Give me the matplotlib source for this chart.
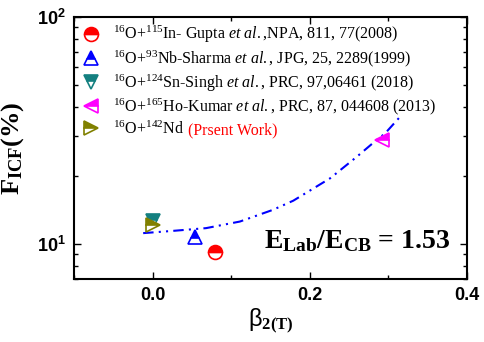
import matplotlib
matplotlib.use("Agg")
import matplotlib.pyplot as plt
from matplotlib.ticker import LogLocator, NullFormatter, MultipleLocator, FormatStrFormatter
import numpy as np

plt.rcParams['mathtext.fontset'] = 'custom'
plt.rcParams['mathtext.rm'] = 'Liberation Serif'
plt.rcParams['mathtext.it'] = 'Liberation Serif:italic'
plt.rcParams['mathtext.bf'] = 'Liberation Serif:bold'

# data
labels = [r"$^{16}$O+$^{115}$In- Gupta $\it{et\ al.}$,NPA, 811, 77(2008)",
          r"$^{16}$O+$^{93}$Nb-Sharma $\it{et\ al.}$, JPG, 25, 2289(1999)",
          r"$^{16}$O+$^{124}$Sn-Singh $\it{et\ al.}$, PRC, 97,06461 (2018)",
          r"$^{16}$O+$^{165}$Ho-Kumar $\it{et\ al.}$, PRC, 87, 044608 (2013)",
          r"$^{16}$O+$^{142}$Nd"]
beta = [0.079, 0.054, 0.0, 0.292, 0.0]
ficf = [9.2, 10.7, 12.6, 28.7, 12.1]
colors = ['red', 'blue', '#148080', '#ff00ff', '#808000']
markers = ['o', '^', 'v', '<', '>']

fit_x = [-0.012, 0.026, 0.068, 0.111, 0.153, 0.179, 0.226, 0.260, 0.281, 0.296, 0.315]
fit_y = [11.15, 11.41, 11.73, 12.54, 14.12, 15.50, 19.47, 24.24, 27.94, 30.74, 36.38]

fig = plt.figure(figsize=(4.84, 3.42), dpi=100)
ax = fig.add_axes([74/484, 1-279/342, (467-74)/484, (279-17)/342])

ax.plot(fit_x, fit_y, color='blue', lw=1.5, linestyle=(0, (5, 2.5, 1, 2.5, 1, 2.5)), zorder=1)

handles = []
for x, y, c, m, lab in zip(beta, ficf, colors, markers, labels):
    h, = ax.plot([x], [y], linestyle='none', marker=m, markersize=10,
                 markerfacecolor=c, markerfacecoloralt='white', fillstyle='top',
                 markeredgecolor=c, markeredgewidth=1.2, label=lab, zorder=3)
    handles.append(h)

ax.set_yscale('log')
ax.set_xlim(-0.1, 0.4)
ax.set_ylim(7, 100)
ax.xaxis.set_major_locator(MultipleLocator(0.2))
ax.xaxis.set_minor_locator(MultipleLocator(0.1))
ax.xaxis.set_major_formatter(FormatStrFormatter('%.1f'))
ax.yaxis.set_minor_locator(LogLocator(base=10, subs=np.arange(2, 10)))
ax.yaxis.set_minor_formatter(NullFormatter())
ax.tick_params(which='both', direction='in', top=True, right=True, width=1.0)
ax.tick_params(which='major', length=5, labelsize=13, pad=6)
ax.tick_params(which='minor', length=3)
for lab in ax.get_xticklabels() + ax.get_yticklabels():
    lab.set_fontweight('bold')
    lab.set_family('Liberation Sans')
for s in ax.spines.values():
    s.set_linewidth(1.5)

ax.set_ylabel(r"$\mathbf{F_{ICF}(\%)}$", fontsize=19, labelpad=8)
ax.set_xlabel(r"β$_{\mathbf{2(T)}}$", fontsize=17, labelpad=2, family='Liberation Sans')

ax.text(0.957, 0.118, r"E$_{\mathbf{Lab}}$/E$_{\mathbf{CB}}$ = 1.53", transform=ax.transAxes,
        fontsize=20, ha='right', va='baseline', family='Liberation Serif', fontweight='bold')

leg = ax.legend(handles=handles, loc='upper left', frameon=False,
                prop={'family': 'Liberation Serif', 'size': 11.5},
                handletextpad=0.8, labelspacing=0.2, borderaxespad=0.05,
                handlelength=1.2, bbox_to_anchor=(0.0, 1.0))
txt = leg.get_texts()[-1]
ax.annotate("(Prsent Work)", xy=(1, 0), xycoords=txt, xytext=(3, 0),
            textcoords='offset points', color='red', fontsize=11.5,
            family='Liberation Serif', va='bottom', zorder=10)

fig.savefig('out.png', dpi=100)
